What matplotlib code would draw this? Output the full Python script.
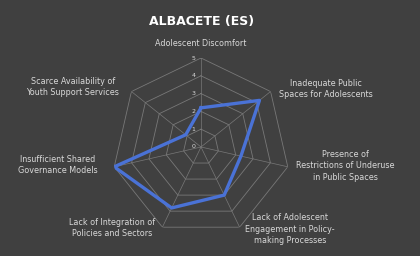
import matplotlib
matplotlib.use("Agg")
import matplotlib.pyplot as plt
import numpy as np

# данные
categories = [
    "Adolescent Discomfort",
    "Inadequate Public\nSpaces for Adolescents",
    "Presence of\nRestrictions of Underuse\nin Public Spaces",
    "Lack of Adolescent\nEngagement in Policy-\nmaking Processes",
    "Lack of Integration of\nPolicies and Sectors",
    "Insufficient Shared\nGovernance Models",
    "Scarce Availability of\nYouth Support Services",
]
values = [2.2, 4.2, 2.3, 3.0, 3.8, 5.0, 1.1]
ticks = [0, 1, 2, 3, 4, 5]
title = "ALBACETE (ES)"

W, H = 420, 256
bg = "#404040"
txt = "#d9d9d9"
grid_c = "#787878"

fig = plt.figure(figsize=(W / 100, H / 100), dpi=100, facecolor=bg)

# центр диаграммы и радиус в пикселях
cx, cy, rad = 201, 147, 89
ax = fig.add_axes([(cx - rad) / W, (H - cy - rad) / H, 2 * rad / W, 2 * rad / H],
                  projection="polar")
ax.set_theta_zero_location("N")
ax.set_theta_direction(-1)
ax.set_facecolor("none")
ax.set_ylim(0, ticks[-1])
ax.grid(False)
ax.spines["polar"].set_visible(False)
ax.set_xticks([])
ax.set_yticks([])

n = len(categories)
theta = np.linspace(0, 2 * np.pi, n, endpoint=False)
theta_c = np.append(theta, theta[0])

# сетка-семиугольники
for t in ticks[1:]:
    ax.plot(theta_c, [t] * (n + 1), color=grid_c, lw=0.6, zorder=1)
for th in theta:
    ax.plot([th, th], [0, ticks[-1]], color=grid_c, lw=0.5, zorder=1)

# подписи шкалы
for t in ticks:
    ax.annotate(str(t), (0, t), xytext=(-4, 0), textcoords="offset points",
                color=txt, fontsize=4.5, ha="right", va="center", zorder=3)

# серия
vals_c = values + values[:1]
ax.plot(theta_c, vals_c, color="#4a72d6", lw=2.4, solid_joinstyle="round", zorder=4)

# подписи категорий (пиксели)
label_pos = [(201, 44), (326, 89), (345, 166), (290, 229),
             (112, 228), (58, 165), (73, 87)]
for lab, (x, y) in zip(categories, label_pos):
    fig.text(x / W, 1 - y / H, lab, color=txt, fontsize=5.8, ha="center",
             va="center", linespacing=1.35)

fig.text(202 / W, 1 - 21 / H, title, color="white", fontsize=9, fontweight="bold",
         ha="center", va="center")

fig.savefig("out.png", dpi=100, facecolor=bg)
